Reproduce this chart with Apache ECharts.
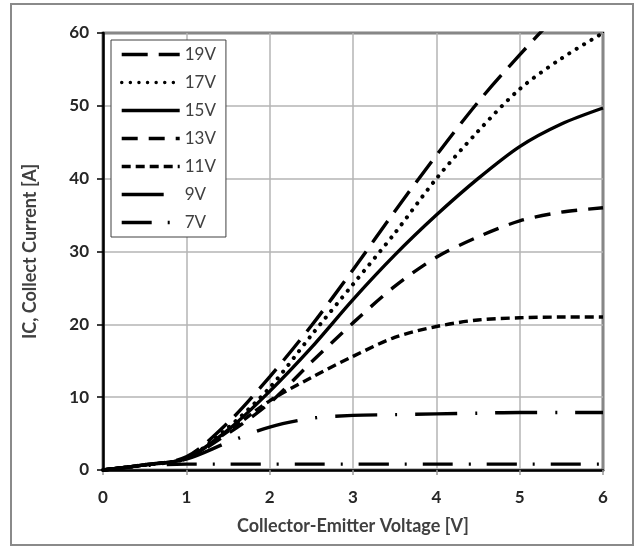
<!DOCTYPE html>
<html>
<head>
<meta charset="utf-8">
<script src="https://cdn.jsdelivr.net/npm/echarts@6/dist/echarts.min.js"></script>
<style>
  html, body { margin: 0; padding: 0; background: #fff; }
  #main { width: 640px; height: 547px; }
</style>
</head>
<body>
<div id="main"></div>
<script>
// collector-emitter voltage points (V)
var voltage = [0, 0.5, 1, 1.5, 2, 2.5, 3, 3.5, 4, 4.5, 5, 5.5, 6];

// collector current (A) for each gate voltage
var ic19 = [0, 0.7, 1.8, 6.5, 12.8, 19.8, 27.5, 35.5, 43.2, 50.5, 57, 63, 68];
var ic17 = [0, 0.7, 1.6, 5.8, 11.3, 18.5, 25.5, 32.5, 40, 46.5, 52.3, 56.5, 60];
var ic15 = [0, 0.7, 1.6, 5.5, 10.8, 16.8, 23.4, 29.5, 35, 40, 44.4, 47.5, 49.7];
var ic13 = [0, 0.7, 1.6, 5, 9.2, 14.8, 20.2, 25.2, 29.2, 32, 34.2, 35.4, 36];
var ic11 = [0, 0.7, 1.6, 5.3, 9.5, 12.7, 15.6, 18.2, 19.7, 20.6, 20.9, 21, 21];
var ic9 = [0, 0.7, 1.5, 3.8, 5.9, 7.1, 7.5, 7.6, 7.7, 7.8, 7.9, 7.9, 7.9];
var ic7 = [0, 0.6, 0.8, 0.8, 0.8, 0.8, 0.8, 0.8, 0.8, 0.8, 0.8, 0.8, 0.8];

var seriesNames = ['19V', '17V', '15V', '13V', '11V', '9V', '7V'];
var seriesValues = [ic19, ic17, ic15, ic13, ic11, ic9, ic7];
var dashes = [[26, 11], [0.1, 8.5], 'solid', [16, 11], [9, 5], [42, 18, 2, 18], [30, 16, 2, 16]];

var font = 'Lato, "Open Sans", sans-serif';

function pairs(ys) {
    var out = [];
    for (var i = 0; i < voltage.length; i++) {
        out.push([voltage[i], ys[i]]);
    }
    return out;
}

var seriesList = [];
for (var i = 0; i < seriesNames.length; i++) {
    seriesList.push({
        name: seriesNames[i],
        type: 'line',
        data: pairs(seriesValues[i]),
        smooth: 0.3,
        symbol: 'none',
        clip: true,
        itemStyle: { color: '#000' },
        lineStyle: {
            color: '#000',
            width: i == 1 ? 4 : 3.4,
            type: dashes[i],
            cap: i == 1 ? 'round' : 'butt'
        }
    });
}

var chart = echarts.init(document.getElementById('main'));

var option = {
    backgroundColor: '#fff',
    animation: false,
    textStyle: { fontFamily: font },
    graphic: [
        {
            type: 'rect',
            shape: { x: 11, y: 4, width: 622, height: 541 },
            style: { fill: 'none', stroke: '#8a8a8a', lineWidth: 2 },
            silent: true
        }
    ],
    grid: {
        left: 103,
        top: 33,
        width: 500,
        height: 437,
        show: true,
        borderColor: '#000',
        borderWidth: 2.5,
        backgroundColor: 'transparent'
    },
    legend: {
        orient: 'vertical',
        left: 111,
        top: 40,
        padding: [6, 10, 6, 9],
        itemWidth: 58,
        itemHeight: 16,
        itemGap: 11,
        backgroundColor: '#fff',
        borderColor: '#404040',
        borderWidth: 1,
        borderRadius: 0,
        itemStyle: { opacity: 0 },
        lineStyle: { width: 3.4 },
        textStyle: { fontFamily: font, fontSize: 17, color: '#404040', lineHeight: 16 },
        data: seriesNames
    },
    xAxis: {
        type: 'value',
        min: 0,
        max: 6,
        interval: 1,
        name: 'Collector-Emitter Voltage [V]',
        nameLocation: 'middle',
        nameGap: 47,
        nameTextStyle: { fontFamily: font, fontSize: 18, fontWeight: 'bold', color: '#404040' },
        axisLine: { onZero: false, lineStyle: { color: '#000', width: 2.5 } },
        axisTick: { show: true, length: 5, lineStyle: { color: '#999', width: 1.5 } },
        axisLabel: { margin: 19, fontFamily: font, fontSize: 17, fontWeight: 'bold', color: '#262626' },
        splitLine: { show: true, lineStyle: { color: '#b5b5b5', width: 1.5 } }
    },
    yAxis: {
        type: 'value',
        min: 0,
        max: 60,
        interval: 10,
        name: 'IC, Collect Current [A]',
        nameLocation: 'middle',
        nameGap: 64,
        nameTextStyle: { fontFamily: font, fontSize: 18, fontWeight: 'bold', color: '#404040' },
        axisLine: { show: true, onZero: false, lineStyle: { color: '#000', width: 2.5 } },
        axisTick: { show: true, length: 6, lineStyle: { color: '#000', width: 1.5 } },
        axisLabel: { margin: 14, fontFamily: font, fontSize: 17, fontWeight: 'bold', color: '#262626' },
        splitLine: { show: true, lineStyle: { color: '#b5b5b5', width: 1.5 } }
    },
    series: seriesList
};

chart.setOption(option);
</script>
</body>
</html>
